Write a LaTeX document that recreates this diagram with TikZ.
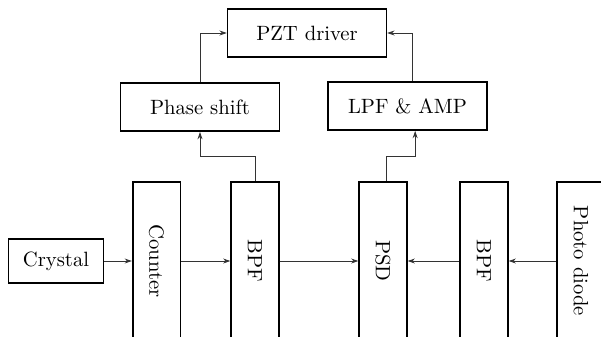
\documentclass[tikz,border=0pt]{standalone}
\usepackage{graphicx}
\usepackage{tikz}
\usetikzlibrary{positioning,arrows.meta,calc}

\begin{document}
\begin{tikzpicture}[x=0.017cm,y=0.017cm,
  box/.style={rectangle,draw=black,line width=0.8pt,fill=white,
              minimum width=2.7cm,minimum height=0.82cm,align=center,inner sep=1pt},
  vbox/.style={rectangle,draw=black,line width=0.8pt,fill=white,
              minimum width=0.81cm,minimum height=2.69cm,inner sep=1pt},
  sig/.style={-{Stealth[length=3.5pt,width=2.4pt]},line width=0.4pt,black!80}
]
\clip (0,0) rectangle (601,336);
\node[box] (pzt) at (307,303) {PZT driver};
\node[box] (phase) at (200,229) {Phase shift};
\node[box] (lpf) at (407.5,230) {LPF \& AMP};
\node[box,minimum width=1.62cm,minimum height=0.75cm] (crystal) at (56,75) {Crystal};
\node[vbox] (counter) at (156.5,75) {\rotatebox[origin=c]{-90}{Counter}};
\node[vbox] (bpfa) at (255,75) {\rotatebox[origin=c]{-90}{BPF}};
\node[vbox] (psd) at (383,75) {\rotatebox[origin=c]{-90}{PSD}};
\node[vbox] (bpfb) at (484,75) {\rotatebox[origin=c]{-90}{BPF}};
\node[vbox] (photo) at (581,75) {\rotatebox[origin=c]{-90}{Photo diode}};
% signal chain
\draw[sig] (crystal) -- (counter);
\draw[sig] (counter) -- (bpfa);
\draw[sig] (bpfa) -- (psd);
\draw[sig] (bpfb) -- (psd);
\draw[sig] (photo) -- (bpfb);
% feedback to the driver
\draw[sig] (bpfa.north) -- ++(0,25) -| (phase.south);
\draw[sig] ([xshift=0.05cm]psd.north) -- ++(0,25) -| ([xshift=0.13cm]lpf.south);
\draw[sig] (phase.north) |- (pzt.west);
\draw[sig] ([xshift=0.08cm]lpf.north) |- (pzt.east);
\end{tikzpicture}
\end{document}
